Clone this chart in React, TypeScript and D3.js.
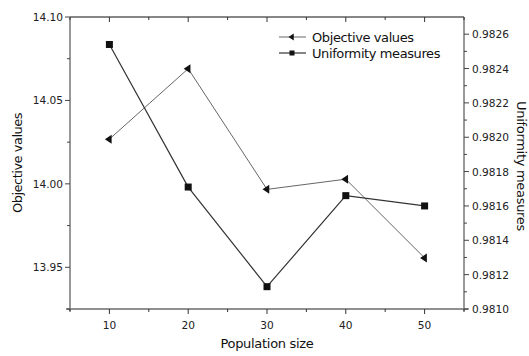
import React from "react";
import * as d3 from "d3";

const populations = [10, 20, 30, 40, 50];
const objectiveValues = [14.0268, 14.069, 13.9967, 14.0028, 13.9556];
const uniformityValues = [0.98254, 0.98171, 0.98113, 0.98166, 0.9816];
const leftTicks = [13.95, 14.0, 14.05, 14.1];
const rightTicks = [0.981, 0.9812, 0.9814, 0.9816, 0.9818, 0.982, 0.9822, 0.9824, 0.9826];
const xTicks = [10, 20, 30, 40, 50];
const seriesNames = ["Objective values", "Uniformity measures"];

const W = 529, H = 356;
const L = 70, R = 464, T = 17, B = 309;
const FONT = "Tahoma, 'DejaVu Sans', Verdana, sans-serif";

export default function App() {
  const x = d3.scaleLinear().domain([5, 55]).range([L, R]);
  const yL = d3.scaleLinear().domain([13.925, 14.1]).range([B, T]);
  const yR = d3.scaleLinear().domain([0.981, 0.9827]).range([B, T]);

  const lineObj = d3.line<number>().x((_, i) => x(populations[i])).y((d) => yL(d));
  const lineUni = d3.line<number>().x((_, i) => x(populations[i])).y((d) => yR(d));

  const xMinor = d3.range(5, 56, 5);
  const leftMinor = d3.range(0, 8).map((i) => 13.925 + i * 0.025);
  const rightMinor = d3.range(0, 17).map((i) => 0.981 + i * 0.0001);

  const tri = (cx: number, cy: number, s = 4.5) =>
    `M${cx - s},${cy} L${cx + s * 0.5},${cy - s} L${cx + s * 0.5},${cy + s} Z`;

  const axisGray = "#777";
  const tickFs = 10.6;

  return (
    <svg width={W} height={H} style={{ position: "absolute", left: 0, top: 0, background: "#fff" }} fontFamily={FONT}>
      <rect width={W} height={H} fill="#fff" />
      {/* frame */}
      <line x1={L} x2={R} y1={T} y2={T} stroke="#111" strokeWidth={1.2} />
      <line x1={L - 4} x2={R + 4} y1={B} y2={B} stroke="#222" strokeWidth={1.2} />
      <line x1={L} x2={L} y1={T} y2={B + 2} stroke={axisGray} strokeWidth={1.5} />
      <line x1={R} x2={R} y1={T} y2={B + 2} stroke={axisGray} strokeWidth={1.5} />

      {/* x ticks bottom and top */}
      {xMinor.map((v) => {
        const major = v % 10 === 0;
        return (
          <g key={"xt" + v}>
            <line x1={x(v)} x2={x(v)} y1={B} y2={B + (major ? 5 : 3)} stroke="#333" />
            <line x1={x(v)} x2={x(v)} y1={T} y2={T + (major ? 5 : 3)} stroke="#333" />
          </g>
        );
      })}
      {xTicks.map((v) => (
        <text key={"xl" + v} x={x(v)} y={B + 20} fontSize={tickFs} textAnchor="middle" fill="#222">
          {v}
        </text>
      ))}
      <text x={(L + R) / 2} y={H - 8} fontSize={13} letterSpacing={-0.3} textAnchor="middle" fill="#111">
        Population size
      </text>

      {/* left axis */}
      {leftMinor.map((v, i) => (
        <line key={"lm" + i} x1={L - (i % 2 === 1 ? 5 : 3)} x2={L} y1={yL(v)} y2={yL(v)} stroke="#444" />
      ))}
      {leftTicks.map((v) => (
        <text key={"ll" + v} x={L - 7} y={yL(v) + 4} fontSize={tickFs} textAnchor="end" fill="#222">
          {v.toFixed(2)}
        </text>
      ))}
      <text transform={`translate(22,${(T + B) / 2}) rotate(-90)`} fontSize={13} letterSpacing={-0.5} textAnchor="middle" fill="#111">
        Objective values
      </text>

      {/* right axis */}
      {rightMinor.map((v, i) => (
        <line key={"rm" + i} x1={R} x2={R + (i % 2 === 0 ? 5 : 3)} y1={yR(v)} y2={yR(v)} stroke="#444" />
      ))}
      {rightTicks.map((v) => (
        <text key={"rl" + v} x={R + 8} y={yR(v) + 4} fontSize={tickFs} textAnchor="start" fill="#222">
          {v.toFixed(4)}
        </text>
      ))}
      <text transform={`translate(517,${(T + B) / 2 + 3}) rotate(90)`} fontSize={13} letterSpacing={-0.3} textAnchor="middle" fill="#111">
        Uniformity measures
      </text>

      {/* series */}
      <path d={lineObj(objectiveValues) || ""} fill="none" stroke="#666" strokeWidth={1} />
      <path d={lineUni(uniformityValues) || ""} fill="none" stroke="#333" strokeWidth={1.2} />
      {objectiveValues.map((v, i) => (
        <path key={"to" + i} d={tri(x(populations[i]), yL(v))} fill="#111" />
      ))}
      {uniformityValues.map((v, i) => (
        <rect key={"sq" + i} x={x(populations[i]) - 3.5} y={yR(v) - 3.5} width={7} height={7} fill="#111" />
      ))}

      {/* legend */}
      <g>
        <line x1={279} x2={306} y1={37} y2={37} stroke="#666" />
        <path d={tri(292, 37, 3.5)} fill="#111" />
        <text x={312} y={42} fontSize={13} letterSpacing={-0.4} fill="#111">{seriesNames[0]}</text>
        <line x1={279} x2={306} y1={53} y2={53} stroke="#333" strokeWidth={1.2} />
        <rect x={289.5} y={50.5} width={5} height={5} fill="#111" />
        <text x={312} y={58} fontSize={13} letterSpacing={-0.4} fill="#111">{seriesNames[1]}</text>
      </g>
    </svg>
  );
}
